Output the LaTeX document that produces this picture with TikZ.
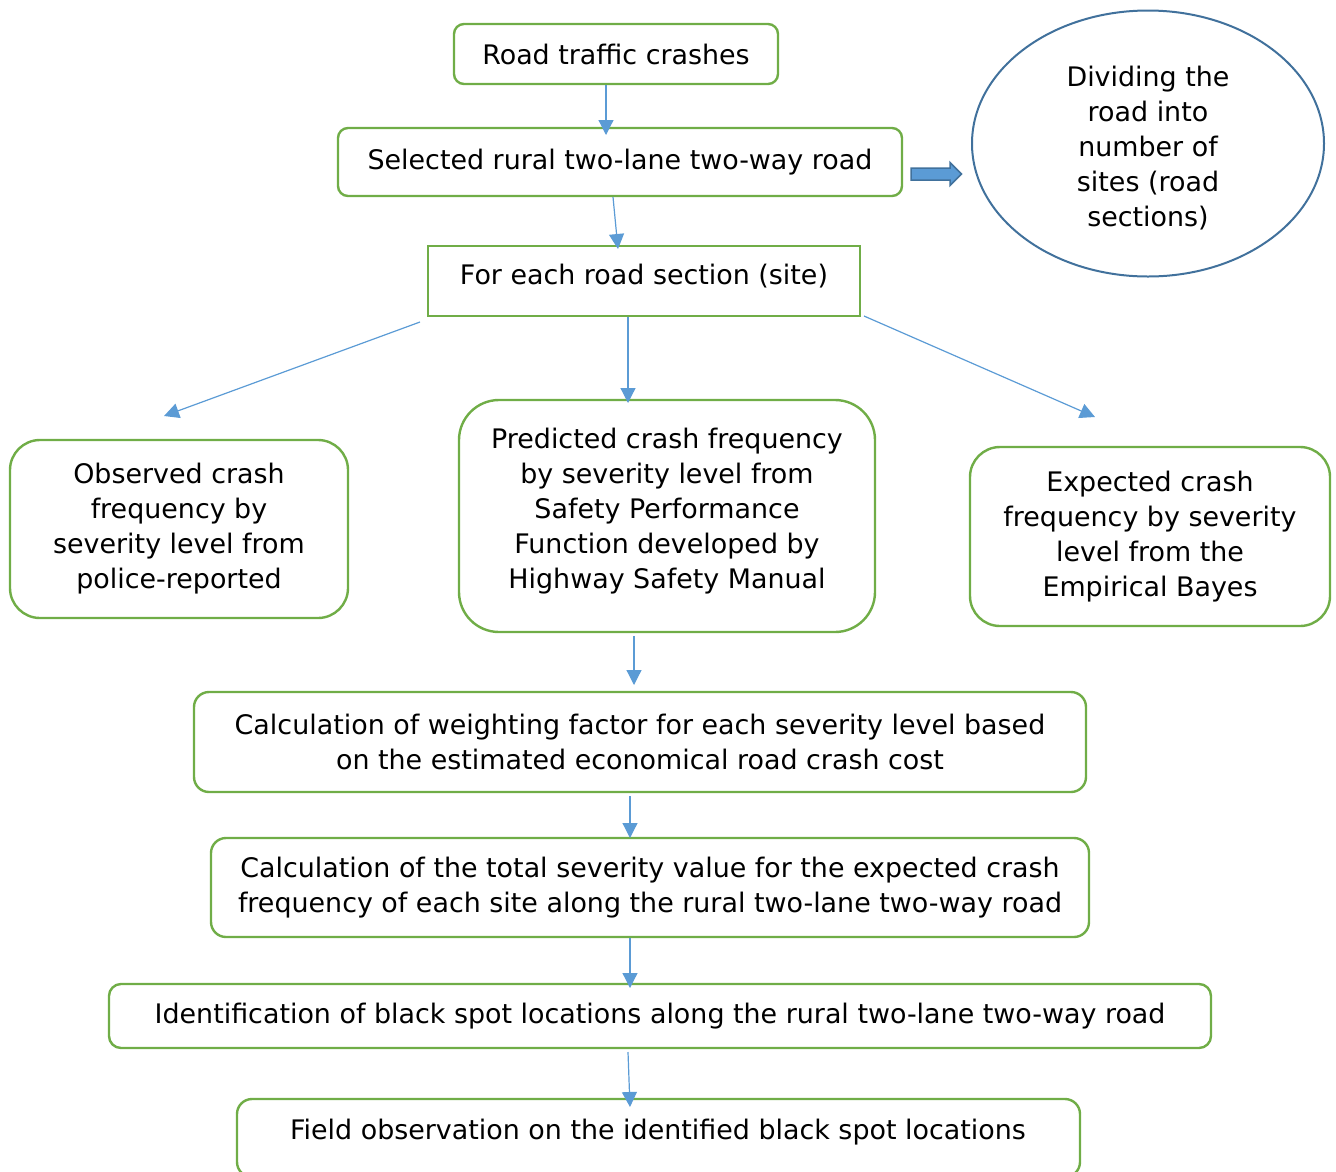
\documentclass[tikz,border=0pt]{standalone}
\usepackage{fontspec}
\setmainfont{DejaVu Sans}
\usetikzlibrary{arrows.meta,shapes.geometric}
\definecolor{gbox}{HTML}{70AD47}
\definecolor{barrow}{HTML}{5B9BD5}
\definecolor{bell}{HTML}{41719C}
\begin{document}
\begin{tikzpicture}[x=1pt,y=-1pt,
  box/.style={draw=gbox, line width=2.4pt, align=center, inner sep=0pt, font=\fontsize{26.9}{35}\selectfont},
  txt/.style={align=center, inner sep=0pt, font=\fontsize{26.9}{35}\selectfont},
  conn/.style={draw=barrow, line width=1.2pt, -{Triangle[length=15pt,width=15pt]}},
  bigarrow/.style={fill=barrow, draw=bell, line width=1.5pt}]
\useasboundingbox (0,0) rectangle (1336,1171);
\clip (0,0) rectangle (1336,1171);

% boxes
\node[box, rounded corners=10pt, minimum width=324pt, minimum height=60pt] (rtc) at (616,54) {Road traffic crashes};
\node[box, rounded corners=10pt, minimum width=564pt, minimum height=68pt] (sel) at (620,162) {Selected rural two-lane two-way road};
\node[box, minimum width=432pt, minimum height=70pt] (sec) at (644,281) {};
\node[txt] (sectxt) at (644,276) {For each road section (site)};
\node[draw=bell, line width=2pt, ellipse, minimum width=352pt, minimum height=266pt, inner sep=0pt] (div) at (1148,143.5) {};
\node[txt] (divtxt) at (1148,148) {Dividing the\\road into\\number of\\sites (road\\sections)};
\node[box, rounded corners=30pt, minimum width=338pt, minimum height=178pt] (obs) at (179,529) {Observed crash\\frequency by\\severity level from\\police-reported};
\node[box, rounded corners=40pt, minimum width=416pt, minimum height=232pt] (pred) at (667,516) {};
\node[txt] (predtxt) at (667,511) {Predicted crash frequency\\by severity level from\\Safety Performance\\Function developed by\\Highway Safety Manual};
\node[box, rounded corners=30pt, minimum width=360pt, minimum height=179pt] (exp) at (1150,536.5) {Expected crash\\frequency by severity\\level from the\\Empirical Bayes};
\node[box, rounded corners=15pt, minimum width=892pt, minimum height=100pt] (wf) at (640,742) {Calculation of weighting factor for each severity level based\\on the estimated economical road crash cost};
\node[box, rounded corners=15pt, minimum width=878pt, minimum height=99pt] (tsv) at (650,887.5) {Calculation of the total severity value for the expected crash\\frequency of each site along the rural two-lane two-way road};
\node[box, rounded corners=12pt, minimum width=1102pt, minimum height=64pt] (idf) at (660,1016) {Identification of black spot locations along the rural two-lane two-way road};
\node[box, rounded corners=15pt, minimum width=843pt, minimum height=78pt] (fld) at (658.5,1138) {};
\node[txt] (fldtxt) at (658,1132) {Field observation on the identified black spot locations};

% connector end points
\coordinate (a1) at (606,85);   \coordinate (b1) at (606,135);
\coordinate (a2) at (613,197);  \coordinate (b2) at (618,249);
\coordinate (a3) at (420,322);  \coordinate (b3) at (164,416);
\coordinate (a4) at (628,317);  \coordinate (b4) at (628,403);
\coordinate (a5) at (864,316);  \coordinate (b5) at (1095,417);
\coordinate (a6) at (634,636);  \coordinate (b6) at (634,685);
\coordinate (a7) at (630,796);  \coordinate (b7) at (630,838);
\coordinate (a8) at (630,938);  \coordinate (b8) at (630,988);
\coordinate (a9) at (628,1052); \coordinate (b9) at (630,1107);

\draw[conn] (a1) -- (b1);
\draw[conn] (a2) -- (b2);
\draw[conn] (a3) -- (b3);
\draw[conn] (a4) -- (b4);
\draw[conn] (a5) -- (b5);
\draw[conn] (a6) -- (b6);
\draw[conn] (a7) -- (b7);
\draw[conn] (a8) -- (b8);
\draw[conn] (a9) -- (b9);

% block arrow between selected road and ellipse
\draw[bigarrow] (911,168) -- (950,168) -- (950,162.5) -- (961.5,174) -- (950,185.5) -- (950,180) -- (911,180) -- cycle;
\end{tikzpicture}
\end{document}
